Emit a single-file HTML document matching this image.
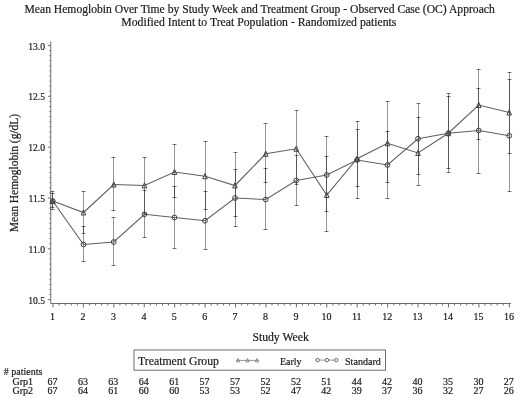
<!DOCTYPE html>
<html><head><meta charset="utf-8"><title>Mean Hemoglobin</title>
<style>
html,body{margin:0;padding:0;background:#fff;}
body{width:520px;height:403px;position:relative;overflow:hidden;font-family:"Liberation Serif",serif;color:#1a1a1a;}
.t{position:absolute;white-space:nowrap;line-height:1;-webkit-text-stroke:0.2px #1a1a1a;}
#w{position:absolute;left:0;top:0;width:520px;height:403px;will-change:transform;transform:translateZ(0);}
.c{transform:translateX(-50%);}
</style></head><body><div id="w">
<svg width="520" height="403" viewBox="0 0 520 403" style="position:absolute;left:0;top:0">
<g stroke="#6c6c6c" stroke-width="1" fill="none">
<path d="M50.75 41.5V303.5H511"/>
<path d="M50.75 299.70h-2.9"/>
<path d="M50.75 294.61h-1.4"/>
<path d="M50.75 289.53h-1.4"/>
<path d="M50.75 284.44h-1.4"/>
<path d="M50.75 279.36h-1.4"/>
<path d="M50.75 274.27h-1.4"/>
<path d="M50.75 269.19h-1.4"/>
<path d="M50.75 264.10h-1.4"/>
<path d="M50.75 259.02h-1.4"/>
<path d="M50.75 253.93h-1.4"/>
<path d="M50.75 248.85h-2.9"/>
<path d="M50.75 243.76h-1.4"/>
<path d="M50.75 238.68h-1.4"/>
<path d="M50.75 233.59h-1.4"/>
<path d="M50.75 228.51h-1.4"/>
<path d="M50.75 223.42h-1.4"/>
<path d="M50.75 218.34h-1.4"/>
<path d="M50.75 213.25h-1.4"/>
<path d="M50.75 208.17h-1.4"/>
<path d="M50.75 203.08h-1.4"/>
<path d="M50.75 198.00h-2.9"/>
<path d="M50.75 192.91h-1.4"/>
<path d="M50.75 187.83h-1.4"/>
<path d="M50.75 182.74h-1.4"/>
<path d="M50.75 177.66h-1.4"/>
<path d="M50.75 172.57h-1.4"/>
<path d="M50.75 167.49h-1.4"/>
<path d="M50.75 162.40h-1.4"/>
<path d="M50.75 157.32h-1.4"/>
<path d="M50.75 152.23h-1.4"/>
<path d="M50.75 147.15h-2.9"/>
<path d="M50.75 142.06h-1.4"/>
<path d="M50.75 136.98h-1.4"/>
<path d="M50.75 131.89h-1.4"/>
<path d="M50.75 126.81h-1.4"/>
<path d="M50.75 121.72h-1.4"/>
<path d="M50.75 116.64h-1.4"/>
<path d="M50.75 111.55h-1.4"/>
<path d="M50.75 106.47h-1.4"/>
<path d="M50.75 101.38h-1.4"/>
<path d="M50.75 96.30h-2.9"/>
<path d="M50.75 91.21h-1.4"/>
<path d="M50.75 86.13h-1.4"/>
<path d="M50.75 81.04h-1.4"/>
<path d="M50.75 75.96h-1.4"/>
<path d="M50.75 70.87h-1.4"/>
<path d="M50.75 65.79h-1.4"/>
<path d="M50.75 60.70h-1.4"/>
<path d="M50.75 55.62h-1.4"/>
<path d="M50.75 50.53h-1.4"/>
<path d="M50.75 45.45h-2.9"/>
<path d="M53.00 303.5v4"/>
<path d="M59.08 303.5v2"/>
<path d="M65.17 303.5v2"/>
<path d="M71.25 303.5v2"/>
<path d="M77.34 303.5v2"/>
<path d="M83.42 303.5v4"/>
<path d="M89.50 303.5v2"/>
<path d="M95.59 303.5v2"/>
<path d="M101.67 303.5v2"/>
<path d="M107.76 303.5v2"/>
<path d="M113.84 303.5v4"/>
<path d="M119.92 303.5v2"/>
<path d="M126.01 303.5v2"/>
<path d="M132.09 303.5v2"/>
<path d="M138.18 303.5v2"/>
<path d="M144.26 303.5v4"/>
<path d="M150.34 303.5v2"/>
<path d="M156.43 303.5v2"/>
<path d="M162.51 303.5v2"/>
<path d="M168.60 303.5v2"/>
<path d="M174.68 303.5v4"/>
<path d="M180.76 303.5v2"/>
<path d="M186.85 303.5v2"/>
<path d="M192.93 303.5v2"/>
<path d="M199.02 303.5v2"/>
<path d="M205.10 303.5v4"/>
<path d="M211.18 303.5v2"/>
<path d="M217.27 303.5v2"/>
<path d="M223.35 303.5v2"/>
<path d="M229.44 303.5v2"/>
<path d="M235.52 303.5v4"/>
<path d="M241.60 303.5v2"/>
<path d="M247.69 303.5v2"/>
<path d="M253.77 303.5v2"/>
<path d="M259.86 303.5v2"/>
<path d="M265.94 303.5v4"/>
<path d="M272.02 303.5v2"/>
<path d="M278.11 303.5v2"/>
<path d="M284.19 303.5v2"/>
<path d="M290.28 303.5v2"/>
<path d="M296.36 303.5v4"/>
<path d="M302.44 303.5v2"/>
<path d="M308.53 303.5v2"/>
<path d="M314.61 303.5v2"/>
<path d="M320.70 303.5v2"/>
<path d="M326.78 303.5v4"/>
<path d="M332.86 303.5v2"/>
<path d="M338.95 303.5v2"/>
<path d="M345.03 303.5v2"/>
<path d="M351.12 303.5v2"/>
<path d="M357.20 303.5v4"/>
<path d="M363.28 303.5v2"/>
<path d="M369.37 303.5v2"/>
<path d="M375.45 303.5v2"/>
<path d="M381.54 303.5v2"/>
<path d="M387.62 303.5v4"/>
<path d="M393.70 303.5v2"/>
<path d="M399.79 303.5v2"/>
<path d="M405.87 303.5v2"/>
<path d="M411.96 303.5v2"/>
<path d="M418.04 303.5v4"/>
<path d="M424.12 303.5v2"/>
<path d="M430.21 303.5v2"/>
<path d="M436.29 303.5v2"/>
<path d="M442.38 303.5v2"/>
<path d="M448.46 303.5v4"/>
<path d="M454.54 303.5v2"/>
<path d="M460.63 303.5v2"/>
<path d="M466.71 303.5v2"/>
<path d="M472.80 303.5v2"/>
<path d="M478.88 303.5v4"/>
<path d="M484.96 303.5v2"/>
<path d="M491.05 303.5v2"/>
<path d="M497.13 303.5v2"/>
<path d="M503.22 303.5v2"/>
<path d="M509.30 303.5v4"/>
</g>
<g stroke="#6c6c6c" stroke-width="1" fill="none">
<g stroke="#000" stroke-opacity="0.42">
<path d="M52.5 191.0V210.0"/><path d="M50.5 191.5h4M50.5 209.5h4" stroke-opacity="0.5"/>
<path d="M52.5 193.0V208.0"/><path d="M50.5 193.5h4M50.5 207.5h4" stroke-opacity="0.5"/>
<path d="M83.5 191.0V234.0"/><path d="M81.5 191.5h4M81.5 233.5h4" stroke-opacity="0.5"/>
<path d="M83.5 226.0V262.0"/><path d="M81.5 226.5h4M81.5 261.5h4" stroke-opacity="0.5"/>
<path d="M113.5 157.0V211.0"/><path d="M111.5 157.5h4M111.5 210.5h4" stroke-opacity="0.5"/>
<path d="M113.5 217.0V266.0"/><path d="M111.5 217.5h4M111.5 265.5h4" stroke-opacity="0.5"/>
<path d="M144.5 157.0V214.0"/><path d="M142.5 157.5h4M142.5 213.5h4" stroke-opacity="0.5"/>
<path d="M144.5 190.0V238.0"/><path d="M142.5 190.5h4M142.5 237.5h4" stroke-opacity="0.5"/>
<path d="M174.5 144.0V198.0"/><path d="M172.5 144.5h4M172.5 197.5h4" stroke-opacity="0.5"/>
<path d="M174.5 186.0V249.0"/><path d="M172.5 186.5h4M172.5 248.5h4" stroke-opacity="0.5"/>
<path d="M205.5 141.0V210.0"/><path d="M203.5 141.5h4M203.5 209.5h4" stroke-opacity="0.5"/>
<path d="M205.5 191.0V250.0"/><path d="M203.5 191.5h4M203.5 249.5h4" stroke-opacity="0.5"/>
<path d="M235.5 152.0V217.0"/><path d="M233.5 152.5h4M233.5 216.5h4" stroke-opacity="0.5"/>
<path d="M235.5 169.0V227.0"/><path d="M233.5 169.5h4M233.5 226.5h4" stroke-opacity="0.5"/>
<path d="M265.5 123.0V183.0"/><path d="M263.5 123.5h4M263.5 182.5h4" stroke-opacity="0.5"/>
<path d="M265.5 168.0V230.0"/><path d="M263.5 168.5h4M263.5 229.5h4" stroke-opacity="0.5"/>
<path d="M296.5 110.0V185.0"/><path d="M294.5 110.5h4M294.5 184.5h4" stroke-opacity="0.5"/>
<path d="M296.5 155.0V206.0"/><path d="M294.5 155.5h4M294.5 205.5h4" stroke-opacity="0.5"/>
<path d="M326.5 156.0V232.0"/><path d="M324.5 156.5h4M324.5 231.5h4" stroke-opacity="0.5"/>
<path d="M326.5 136.0V212.0"/><path d="M324.5 136.5h4M324.5 211.5h4" stroke-opacity="0.5"/>
<path d="M357.5 121.0V199.0"/><path d="M355.5 121.5h4M355.5 198.5h4" stroke-opacity="0.5"/>
<path d="M357.5 129.0V187.0"/><path d="M355.5 129.5h4M355.5 186.5h4" stroke-opacity="0.5"/>
<path d="M387.5 101.0V183.0"/><path d="M385.5 101.5h4M385.5 182.5h4" stroke-opacity="0.5"/>
<path d="M387.5 131.0V199.0"/><path d="M385.5 131.5h4M385.5 198.5h4" stroke-opacity="0.5"/>
<path d="M418.5 117.0V186.0"/><path d="M416.5 117.5h4M416.5 185.5h4" stroke-opacity="0.5"/>
<path d="M418.5 103.0V175.0"/><path d="M416.5 103.5h4M416.5 174.5h4" stroke-opacity="0.5"/>
<path d="M448.5 93.0V173.0"/><path d="M446.5 93.5h4M446.5 172.5h4" stroke-opacity="0.5"/>
<path d="M448.5 96.0V169.0"/><path d="M446.5 96.5h4M446.5 168.5h4" stroke-opacity="0.5"/>
<path d="M478.5 69.0V140.0"/><path d="M476.5 69.5h4M476.5 139.5h4" stroke-opacity="0.5"/>
<path d="M478.5 88.0V174.0"/><path d="M476.5 88.5h4M476.5 173.5h4" stroke-opacity="0.5"/>
<path d="M509.5 72.0V154.0"/><path d="M507.5 72.5h4M507.5 153.5h4" stroke-opacity="0.5"/>
<path d="M509.5 79.0V192.0"/><path d="M507.5 79.5h4M507.5 191.5h4" stroke-opacity="0.5"/>
</g>
<polyline points="52.75,201 83.5,212.5 113.75,184.5 144.5,185.5 174.5,172 205,176.25 235,185.5 265.75,153.75 296.25,148.75 326.75,195 357,158.75 387.5,143.25 418,153 448.25,133.25 478.75,105 509.25,112.5" stroke="#606060" stroke-width="1.1"/>
<polyline points="52.75,201 83.5,244.5 113.75,242 144.5,214.25 174.5,217.5 205,220.75 235,198 265.75,199.5 296.25,180.5 326.75,175 357,160 387.5,165 418,138.75 448.25,133.25 478.75,130.5 509.25,135.75" stroke="#606060" stroke-width="1.1"/>
<path d="M50.45 203.5L52.75 198.3L55.05 203.5Z" stroke="#404040"/>
<circle cx="52.75" cy="201" r="2.4" stroke="#404040"/>
<path d="M81.2 215.0L83.5 209.8L85.8 215.0Z" stroke="#404040"/>
<circle cx="83.5" cy="244.5" r="2.4" stroke="#404040"/>
<path d="M111.45 187.0L113.75 181.8L116.05 187.0Z" stroke="#404040"/>
<circle cx="113.75" cy="242" r="2.4" stroke="#404040"/>
<path d="M142.2 188.0L144.5 182.8L146.8 188.0Z" stroke="#404040"/>
<circle cx="144.5" cy="214.25" r="2.4" stroke="#404040"/>
<path d="M172.2 174.5L174.5 169.3L176.8 174.5Z" stroke="#404040"/>
<circle cx="174.5" cy="217.5" r="2.4" stroke="#404040"/>
<path d="M202.7 178.75L205 173.55L207.3 178.75Z" stroke="#404040"/>
<circle cx="205" cy="220.75" r="2.4" stroke="#404040"/>
<path d="M232.7 188.0L235 182.8L237.3 188.0Z" stroke="#404040"/>
<circle cx="235" cy="198" r="2.4" stroke="#404040"/>
<path d="M263.45 156.25L265.75 151.05L268.05 156.25Z" stroke="#404040"/>
<circle cx="265.75" cy="199.5" r="2.4" stroke="#404040"/>
<path d="M293.95 151.25L296.25 146.05L298.55 151.25Z" stroke="#404040"/>
<circle cx="296.25" cy="180.5" r="2.4" stroke="#404040"/>
<path d="M324.45 197.5L326.75 192.3L329.05 197.5Z" stroke="#404040"/>
<circle cx="326.75" cy="175" r="2.4" stroke="#404040"/>
<path d="M354.7 161.25L357 156.05L359.3 161.25Z" stroke="#404040"/>
<circle cx="357" cy="160" r="2.4" stroke="#404040"/>
<path d="M385.2 145.75L387.5 140.55L389.8 145.75Z" stroke="#404040"/>
<circle cx="387.5" cy="165" r="2.4" stroke="#404040"/>
<path d="M415.7 155.5L418 150.3L420.3 155.5Z" stroke="#404040"/>
<circle cx="418" cy="138.75" r="2.4" stroke="#404040"/>
<path d="M445.95 135.75L448.25 130.55L450.55 135.75Z" stroke="#404040"/>
<circle cx="448.25" cy="133.25" r="2.4" stroke="#404040"/>
<path d="M476.45 107.5L478.75 102.3L481.05 107.5Z" stroke="#404040"/>
<circle cx="478.75" cy="130.5" r="2.4" stroke="#404040"/>
<path d="M506.95 115.0L509.25 109.8L511.55 115.0Z" stroke="#404040"/>
<circle cx="509.25" cy="135.75" r="2.4" stroke="#404040"/>
<rect x="134" y="350.0" width="251.5" height="20.2"/>
<path d="M236.3 360.4H258.7M315.6 360.1H338" stroke="#8a8a8a" stroke-width="0.9"/>
<path d="M236.3 361.9L238 358.5L239.7 361.9Z" stroke="#777" stroke-width="0.8"/>
<path d="M245.8 361.9L247.5 358.5L249.2 361.9Z" stroke="#777" stroke-width="0.8"/>
<path d="M255.3 361.9L257 358.5L258.7 361.9Z" stroke="#777" stroke-width="0.8"/>
<circle cx="317.5" cy="360.1" r="1.7" fill="#fff" stroke="#555" stroke-width="0.9"/>
<circle cx="327" cy="360.1" r="1.7" fill="#fff" stroke="#555" stroke-width="0.9"/>
<circle cx="336.3" cy="360.1" r="1.7" fill="#fff" stroke="#555" stroke-width="0.9"/>
</g>
</svg>
<div class="t" id="t1" style="left:24.5px;top:4.2px;font-size:11.62px;">Mean Hemoglobin Over Time by Study Week and Treatment Group - Observed Case (OC) Approach</div>
<div class="t" id="t2" style="left:121.3px;top:17px;font-size:11.72px;">Modified Intent to Treat Population - Randomized patients</div>
<div class="t yl" style="right:475.0px;top:295.8px;font-size:9.6px;">10.5</div>
<div class="t yl" style="right:475.0px;top:244.9px;font-size:9.6px;">11.0</div>
<div class="t yl" style="right:475.0px;top:194.1px;font-size:9.6px;">11.5</div>
<div class="t yl" style="right:475.0px;top:143.2px;font-size:9.6px;">12.0</div>
<div class="t yl" style="right:475.0px;top:92.4px;font-size:9.6px;">12.5</div>
<div class="t yl" style="right:475.0px;top:41.5px;font-size:9.6px;">13.0</div>
<div class="t c xl" style="left:52.6px;top:311.6px;font-size:10px;">1</div>
<div class="t c xl" style="left:83.0px;top:311.6px;font-size:10px;">2</div>
<div class="t c xl" style="left:113.4px;top:311.6px;font-size:10px;">3</div>
<div class="t c xl" style="left:143.9px;top:311.6px;font-size:10px;">4</div>
<div class="t c xl" style="left:174.3px;top:311.6px;font-size:10px;">5</div>
<div class="t c xl" style="left:204.7px;top:311.6px;font-size:10px;">6</div>
<div class="t c xl" style="left:235.1px;top:311.6px;font-size:10px;">7</div>
<div class="t c xl" style="left:265.5px;top:311.6px;font-size:10px;">8</div>
<div class="t c xl" style="left:296.0px;top:311.6px;font-size:10px;">9</div>
<div class="t c xl" style="left:326.4px;top:311.6px;font-size:10px;">10</div>
<div class="t c xl" style="left:356.8px;top:311.6px;font-size:10px;">11</div>
<div class="t c xl" style="left:387.2px;top:311.6px;font-size:10px;">12</div>
<div class="t c xl" style="left:417.6px;top:311.6px;font-size:10px;">13</div>
<div class="t c xl" style="left:448.1px;top:311.6px;font-size:10px;">14</div>
<div class="t c xl" style="left:478.5px;top:311.6px;font-size:10px;">15</div>
<div class="t c xl" style="left:508.9px;top:311.6px;font-size:10px;">16</div>
<div class="t c" id="xt" style="left:280.6px;top:332.1px;font-size:11.7px;">Study Week</div>
<div class="t" id="yt" style="left:15.0px;top:172.9px;font-size:11.45px;transform:translate(-50%,-50%) rotate(-90deg);">Mean Hemoglobin (g/dL)</div>
<div class="t" id="lg0" style="left:138.1px;top:355.6px;font-size:11.75px;">Treatment Group</div>
<div class="t" id="lg1" style="left:280px;top:356.5px;font-size:9.9px;">Early</div>
<div class="t" id="lg2" style="left:345px;top:356.5px;font-size:10.1px;">Standard</div>
<div class="t" id="np" style="left:3.8px;top:366.6px;font-size:10px;"># patients</div>
<div class="t" id="gr1" style="left:12.5px;top:376.7px;font-size:10px;">Grp1</div>
<div class="t" id="gr2" style="left:12.5px;top:385.7px;font-size:10px;">Grp2</div>
<div class="t c n" style="left:52.5px;top:376.5px;font-size:10px;">67</div>
<div class="t c n" style="left:52.5px;top:385.8px;font-size:10px;">67</div>
<div class="t c n" style="left:82.9px;top:376.5px;font-size:10px;">63</div>
<div class="t c n" style="left:82.9px;top:385.8px;font-size:10px;">64</div>
<div class="t c n" style="left:113.3px;top:376.5px;font-size:10px;">63</div>
<div class="t c n" style="left:113.3px;top:385.8px;font-size:10px;">61</div>
<div class="t c n" style="left:143.8px;top:376.5px;font-size:10px;">64</div>
<div class="t c n" style="left:143.8px;top:385.8px;font-size:10px;">60</div>
<div class="t c n" style="left:174.2px;top:376.5px;font-size:10px;">61</div>
<div class="t c n" style="left:174.2px;top:385.8px;font-size:10px;">60</div>
<div class="t c n" style="left:204.6px;top:376.5px;font-size:10px;">57</div>
<div class="t c n" style="left:204.6px;top:385.8px;font-size:10px;">53</div>
<div class="t c n" style="left:235.0px;top:376.5px;font-size:10px;">57</div>
<div class="t c n" style="left:235.0px;top:385.8px;font-size:10px;">53</div>
<div class="t c n" style="left:265.4px;top:376.5px;font-size:10px;">52</div>
<div class="t c n" style="left:265.4px;top:385.8px;font-size:10px;">52</div>
<div class="t c n" style="left:295.9px;top:376.5px;font-size:10px;">52</div>
<div class="t c n" style="left:295.9px;top:385.8px;font-size:10px;">47</div>
<div class="t c n" style="left:326.3px;top:376.5px;font-size:10px;">51</div>
<div class="t c n" style="left:326.3px;top:385.8px;font-size:10px;">42</div>
<div class="t c n" style="left:356.7px;top:376.5px;font-size:10px;">44</div>
<div class="t c n" style="left:356.7px;top:385.8px;font-size:10px;">39</div>
<div class="t c n" style="left:387.1px;top:376.5px;font-size:10px;">42</div>
<div class="t c n" style="left:387.1px;top:385.8px;font-size:10px;">37</div>
<div class="t c n" style="left:417.5px;top:376.5px;font-size:10px;">40</div>
<div class="t c n" style="left:417.5px;top:385.8px;font-size:10px;">36</div>
<div class="t c n" style="left:448.0px;top:376.5px;font-size:10px;">35</div>
<div class="t c n" style="left:448.0px;top:385.8px;font-size:10px;">32</div>
<div class="t c n" style="left:478.4px;top:376.5px;font-size:10px;">30</div>
<div class="t c n" style="left:478.4px;top:385.8px;font-size:10px;">27</div>
<div class="t c n" style="left:508.8px;top:376.5px;font-size:10px;">27</div>
<div class="t c n" style="left:508.8px;top:385.8px;font-size:10px;">26</div>
</div></body></html>
